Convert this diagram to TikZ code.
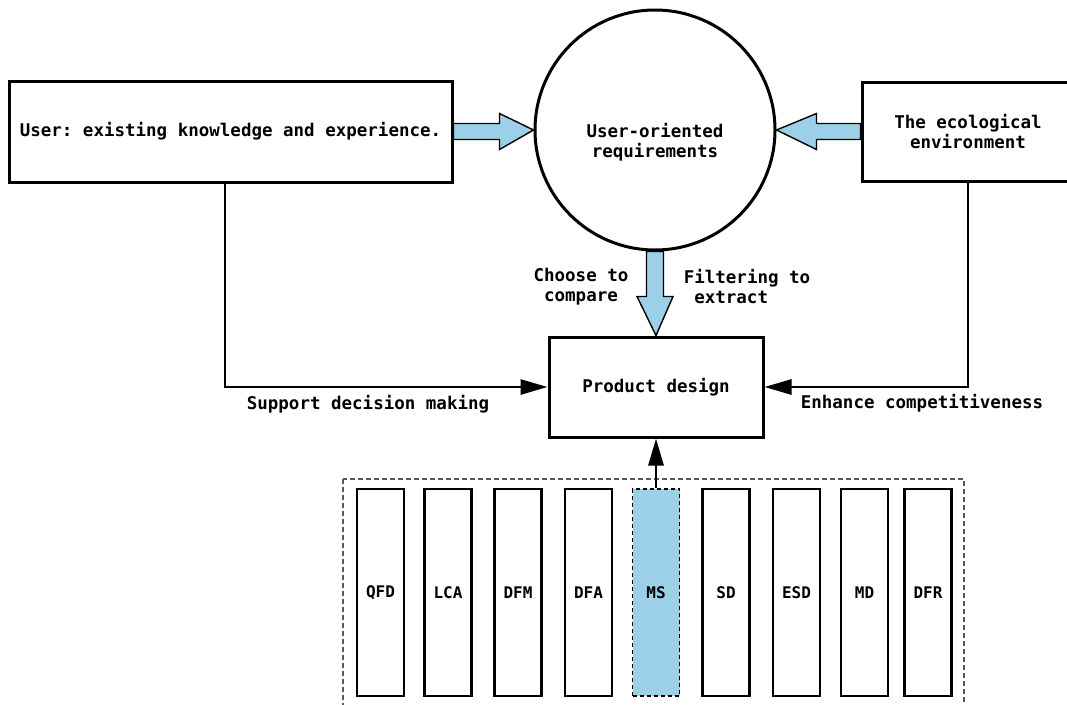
\documentclass[tikz,border=0pt]{standalone}
\usepackage{fontspec}
\setmonofont{DejaVu Sans Mono}
\usetikzlibrary{calc, arrows.meta}
\definecolor{reqblue}{RGB}{156,207,232}
\tikzstyle{block} = [rectangle, draw, line width=3pt, align=center, font=\fontsize{17.5}{20}\selectfont\ttfamily\bfseries]
\tikzstyle{tag} = [inner sep=0pt, font=\fontsize{17.5}{20}\selectfont\ttfamily\bfseries]
\tikzstyle{method} = [rectangle, draw, line width=2.8pt, minimum width=47pt, minimum height=207pt, font=\fontsize{16}{18}\selectfont\ttfamily\bfseries]
\tikzstyle{flow} = [line width=2.8pt, -{Triangle[length=27pt, width=15pt]}]
\tikzstyle{blockarrow} = [draw, line width=1.4pt, fill=reqblue, line join=miter]
\tikzstyle{group} = [draw=black!65, line width=1.8pt, dash pattern=on 5pt off 3pt]

\begin{document}
\begin{tikzpicture}[x=1pt, y=-1pt]
    \useasboundingbox (0,0) rectangle (1067,704);
    \node (user) [block, minimum width=443pt, minimum height=101pt] at (230.5,131.5) {User: existing knowledge and experience.};
    \node (req) [circle, draw, line width=3pt, minimum size=240pt] at (655,130) {};
    \node (reqtext) [tag, align=center] at (655,142) {User-oriented\\requirements};
    \node (eco) [block, minimum width=212pt, minimum height=99pt] at (968,131.5) {The ecological\\environment};
    \node (prod) [block, minimum width=214pt, minimum height=100pt] at (656,387) {Product design};
    \draw [group] (343,479) rectangle (964,716);
    \node (qfd) [method] at (380.5,592.5) {QFD};
    \node (lca) [method] at (448,592.5) {LCA};
    \node (dfm) [method] at (518,592.5) {DFM};
    \node (dfa) [method] at (588.5,592.5) {DFA};
    \node (ms) [method, fill=reqblue, line width=1.6pt, dash pattern=on 4pt off 3pt] at (656,592.5) {MS};
    \node (sd) [method] at (726,592.5) {SD};
    \node (esd) [method] at (796.5,592.5) {ESD};
    \node (md) [method] at (864.5,592.5) {MD};
    \node (dfr) [method] at (928,592.5) {DFR};
    \node (support) [tag] at (368,404) {Support decision making};
    \node (enhance) [tag] at (922,403) {Enhance competitiveness};
    \node (choose) [tag, align=center] at (581,287) {Choose to\\compare};
    \node (filter) [tag, align=left] at (747,287) {Filtering to\\\hspace*{10.5pt}extract};
    \draw [blockarrow] ($(user.east)+(0,-8)$) -- ++(46,0) -- ++(0,-10) -- (req.west)
        -- ($(user.east)+(46,18)$) -- ++(0,-10) -- ($(user.east)+(0,8)$) -- cycle;
    \draw [blockarrow] ($(eco.west)+(0,-8)$) -- ++(-44,0) -- ++(0,-10) -- (req.east)
        -- ($(eco.west)+(-44,18)$) -- ++(0,-10) -- ($(eco.west)+(0,8)$) -- cycle;
    \draw [blockarrow] ($(req.south)+(-8.5,0)$) -- ++(0,45) -- ++(-9.5,0) -- (prod.north)
        -- ($(req.south)+(18,45)$) -- ++(-9.5,0) -- ($(req.south)+(8.5,0)$) -- cycle;
    \draw [flow] ([xshift=-5.5pt]user.south) |- (prod.west);
    \draw [flow] (eco.south) |- (prod.east);
    \draw [flow] (ms.north) -- (prod.south);
\end{tikzpicture}
\end{document}
